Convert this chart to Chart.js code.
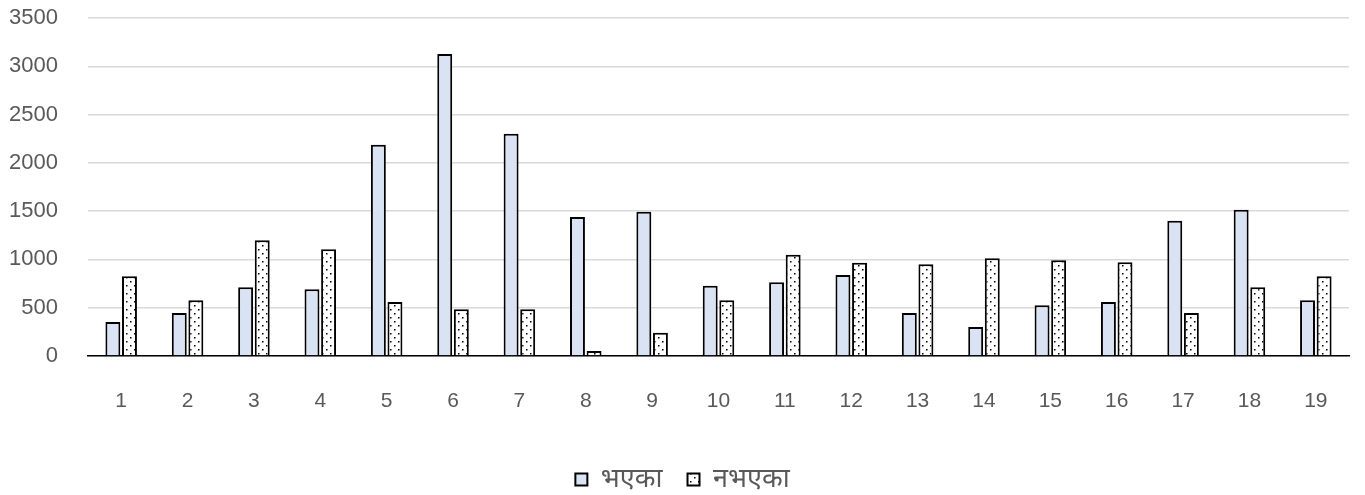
<!DOCTYPE html>
<html>
<head>
<meta charset="utf-8">
<script src="https://cdn.jsdelivr.net/npm/chart.js@4.4.1/dist/chart.umd.min.js"></script>
<style>
  html, body { margin: 0; padding: 0; background: #ffffff; }
  #wrap { width: 1365px; height: 495px; }
</style>
</head>
<body>
<div id="wrap"><canvas id="c" width="1365" height="495"></canvas></div>
<script>
const categories = ['1','2','3','4','5','6','7','8','9','10','11','12','13','14','15','16','17','18','19'];
const seriesNames = ['भएका', 'नभएका'];
const bhaeka  = [352, 445, 711, 690, 2188, 3127, 2302, 1439, 1494, 728, 763, 839, 445, 300, 525, 559, 1401, 1515, 577];
const nabhaeka = [825, 577, 1198, 1105, 559, 483, 483, 52, 241, 577, 1049, 966, 949, 1011, 991, 970, 445, 711, 825];
const yTicks = [0, 500, 1000, 1500, 2000, 2500, 3000, 3500];

function makeDots() {
  const t = document.createElement('canvas');
  t.width = 8; t.height = 8;
  const g = t.getContext('2d');
  g.fillStyle = '#ffffff';
  g.fillRect(0, 0, 8, 8);
  g.fillStyle = '#000000';
  g.fillRect(2, 1, 1.5, 1.5);
  g.fillRect(6, 5, 1.5, 1.5);
  return document.getElementById('c').getContext('2d').createPattern(t, 'repeat');
}
const dots = makeDots();
const FONT = "'Liberation Sans', 'Noto Sans', 'DejaVu Sans', sans-serif";

new Chart(document.getElementById('c'), {
  type: 'bar',
  data: {
    labels: categories,
    datasets: [
      { label: seriesNames[0], data: bhaeka, backgroundColor: '#dae3f3', borderColor: '#000000', borderWidth: 2, borderSkipped: 'bottom' },
      { label: seriesNames[1], data: nabhaeka, backgroundColor: dots, borderColor: '#000000', borderWidth: 2, borderSkipped: 'bottom' }
    ]
  },
  options: {
    responsive: false,
    animation: false,
    devicePixelRatio: 1,
    datasets: { bar: { categoryPercentage: 0.5, barPercentage: 0.9 } },
    layout: { padding: { left: 0, right: 0, top: 18, bottom: 0 } },
    plugins: {
      tooltip: { enabled: false },
      legend: {
        position: 'bottom',
        maxHeight: 54,
        labels: {
          boxWidth: 12, boxHeight: 12, padding: 25,
          color: '#595959',
          font: { family: FONT, size: 27 }
        }
      }
    },
    scales: {
      x: {
        grid: { display: false, drawTicks: false },
        border: { display: true, color: '#000000', width: 1.5 },
        ticks: { color: '#595959', font: { family: FONT, size: 21 }, padding: 33, maxRotation: 0 },
        afterFit: (s) => { s.height = 85; s.paddingLeft = 0; s.paddingRight = 0; }
      },
      y: {
        min: 0, max: 3500,
        afterBuildTicks: (s) => { s.ticks = yTicks.map(v => ({ value: v })); },
        grid: { color: '#d9d9d9', lineWidth: 1.5, drawTicks: false },
        border: { display: false },
        ticks: { color: '#595959', font: { family: FONT, size: 22 }, padding: 30, callback: (v) => String(v) },
        afterFit: (s) => { s.width = 88; s.paddingTop = 0; s.paddingBottom = 0; }
      },
      yRightSpace: {
        position: 'right',
        min: 0, max: 3500,
        grid: { display: false, drawTicks: false },
        border: { display: false },
        ticks: { display: false },
        afterFit: (s) => { s.width = 16; s.paddingTop = 0; s.paddingBottom = 0; }
      }
    }
  }
});
</script>
</body>
</html>
